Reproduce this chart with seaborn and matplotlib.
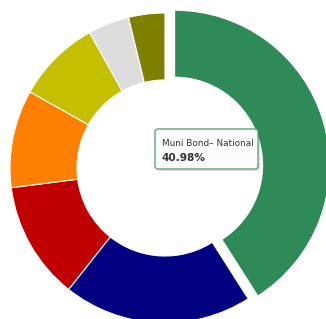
import matplotlib
matplotlib.use("Agg")
import matplotlib.pyplot as plt
from matplotlib.patches import FancyBboxPatch
import seaborn as sns

# slice shares (%), clockwise from 12 o'clock
shares = [40.98, 19.70, 12.29, 10.20, 8.75, 4.30, 3.78]
colors = ["#2E8B57", "#000080", "#C00000", "#FF8000", "#C4C000", "#DDDDDD", "#808000"]
explode = [10, 0, 0, 0, 0, 0, 0]
tip_label = "Muni Bond\u2013 National"
tip_value = "40.98%"

sns.set_style("white")
plt.rcParams['font.family'] = ['DejaVu Sans']

fig = plt.figure(figsize=(3.26, 3.19), dpi=100)
ax = fig.add_axes([0, 0, 1, 1])

ax.pie(shares, colors=colors, explode=explode, startangle=90, counterclock=False,
       center=(165, 151), radius=155, frame=True,
       wedgeprops=dict(width=67, edgecolor="white", linewidth=0.8))
ax.set_xlim(0, 326)
ax.set_ylim(0, 319)
ax.set_aspect("equal")
ax.axis("off")

# tooltip
shadow = FancyBboxPatch((157, 148), 103, 40, boxstyle="round,pad=0,rounding_size=3",
                        fc="#000000", ec="none", alpha=0.12, zorder=4)
box = FancyBboxPatch((155, 150), 103, 40, boxstyle="round,pad=0,rounding_size=3",
                     fc="#FCFCFC", ec="#5FA37A", lw=1.0, zorder=5)
ax.add_patch(shadow)
ax.add_patch(box)
ax.text(162, 175, tip_label, fontsize=6.4, color="#333333", va="center", ha="left", zorder=6)
ax.text(162, 161, tip_value, fontsize=7.6, fontweight="bold", color="#333333",
        va="center", ha="left", zorder=6)

fig.savefig("out.png", dpi=100)
